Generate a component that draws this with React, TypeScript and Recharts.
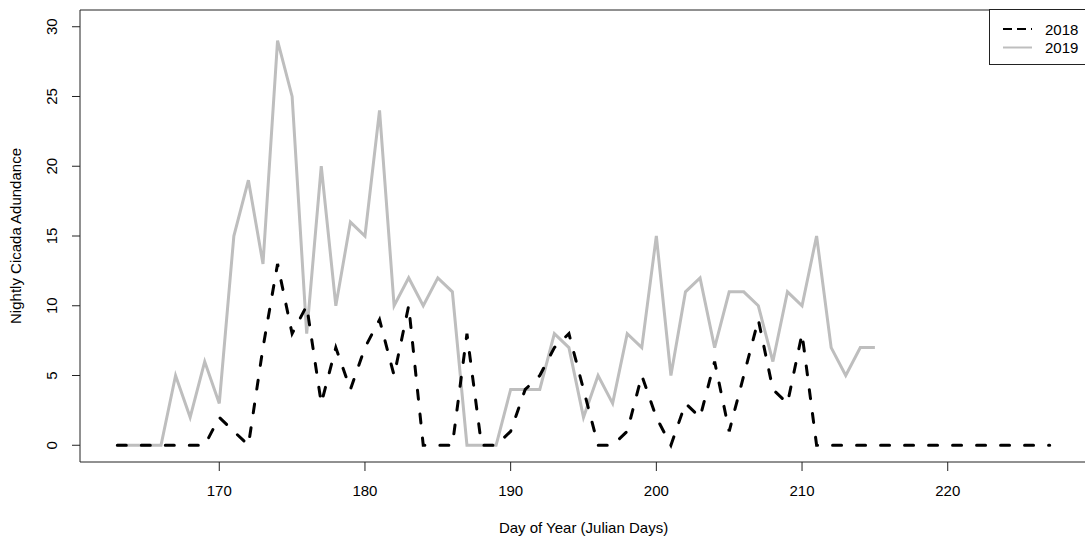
import React from 'react';
import { LineChart, Line, XAxis, YAxis, ReferenceArea, Label } from 'recharts';

const days = [
  163, 164, 165, 166, 167, 168, 169, 170, 171, 172, 173, 174, 175, 176, 177, 178, 179, 180, 181, 182,
  183, 184, 185, 186, 187, 188, 189, 190, 191, 192, 193, 194, 195, 196, 197, 198, 199, 200, 201, 202,
  203, 204, 205, 206, 207, 208, 209, 210, 211, 212, 213, 214, 215, 216, 217, 218, 219, 220, 221, 222,
  223, 224, 225, 226, 227,
];

const abundance2018 = [
  0, 0, 0, 0, 0, 0, 0, 2, 1, 0, 7, 13, 8, 10, 3, 7, 4, 7, 9, 5,
  10, 0, 0, 0, 8, 0, 0, 1, 4, 5, 7, 8, 4, 0, 0, 1, 5, 2, 0, 3,
  2, 6, 1, 5, 9, 4, 3, 8, 0, 0, 0, 0, 0, 0, 0, 0, 0, 0, 0, 0,
  0, 0, 0, 0, 0,
];

const abundance2019 = [
  0, 0, 0, 0, 5, 2, 6, 3, 15, 19, 13, 29, 25, 8, 20, 10, 16, 15, 24, 10,
  12, 10, 12, 11, 0, 0, 0, 4, 4, 4, 8, 7, 2, 5, 3, 8, 7, 15, 5, 11,
  12, 7, 11, 11, 10, 6, 11, 10, 15, 7, 5, 7, 7,
];

const xTicks = [170, 180, 190, 200, 210, 220];
const yTicks = [0, 5, 10, 15, 20, 25, 30];
const seriesNames = ['2018', '2019'];

const xDomain: [number, number] = [160.44, 229.56];
const yDomain: [number, number] = [-1.2, 31.2];

const rows = days.map((d, i) => ({
  day: d,
  y2018: abundance2018[i],
  y2019: i < abundance2019.length ? abundance2019[i] : null,
}));

const FONT = '"Liberation Sans", Arial, sans-serif';
const FS = 15;
const GRAY = '#BEBEBE';

const YTick = (props: any) => {
  const { x, y, payload } = props;
  return (
    <text
      x={x}
      y={y}
      transform={`rotate(-90 ${x} ${y})`}
      textAnchor="middle"
      fontFamily={FONT}
      fontSize={FS}
      fill="#000"
    >
      {payload.value}
    </text>
  );
};

const YTitle = (props: any) => {
  const vb = props.viewBox || {};
  const x = 21;
  const y = vb.y + vb.height / 2;
  return (
    <text
      x={x}
      y={y}
      transform={`rotate(-90 ${x} ${y})`}
      textAnchor="middle"
      fontFamily={FONT}
      fontSize={FS}
      fill="#000"
    >
      Nightly Cicada Adundance
    </text>
  );
};

const XTitle = (props: any) => {
  const vb = props.viewBox || {};
  const x = vb.x + vb.width / 2;
  return (
    <text x={x} y={533} textAnchor="middle" fontFamily={FONT} fontSize={FS} fill="#000">
      Day of Year (Julian Days)
    </text>
  );
};

export default function App() {
  return (
    <div
      style={{
        position: 'absolute',
        left: 0,
        top: 0,
        width: 1085,
        height: 539,
        overflow: 'hidden',
        background: '#fff',
      }}
    >
      <LineChart
        width={1090}
        height={539}
        data={rows}
        margin={{ top: 10, right: 3, bottom: 0, left: 0 }}
      >
        <XAxis
          dataKey="day"
          type="number"
          domain={xDomain}
          ticks={xTicks}
          allowDataOverflow
          axisLine={false}
          tickLine={{ stroke: '#222' }}
          tickSize={9}
          tickMargin={14}
          height={77}
          tick={{ fontFamily: FONT, fontSize: FS, fill: '#000' }}
        >
          <Label content={XTitle} />
        </XAxis>
        <YAxis
          type="number"
          domain={yDomain}
          ticks={yTicks}
          allowDataOverflow
          axisLine={false}
          tickLine={{ stroke: '#222' }}
          tickSize={8}
          tickMargin={15}
          width={80}
          tick={YTick}
        >
          <Label content={YTitle} />
        </YAxis>
        <ReferenceArea
          x1={xDomain[0]}
          x2={xDomain[1]}
          y1={yDomain[0]}
          y2={yDomain[1]}
          fill="none"
          fillOpacity={0}
          stroke="#222"
          strokeWidth={1}
          ifOverflow="visible"
        />
        <Line
          type="linear"
          dataKey="y2019"
          name={seriesNames[1]}
          stroke={GRAY}
          strokeWidth={3}
          dot={false}
          activeDot={false}
          isAnimationActive={false}
        />
        <Line
          type="linear"
          dataKey="y2018"
          name={seriesNames[0]}
          stroke="#000"
          strokeWidth={3}
          strokeDasharray="9 15"
          strokeLinecap="round"
          dot={false}
          activeDot={false}
          isAnimationActive={false}
        />
      </LineChart>
      <div
        style={{
          position: 'absolute',
          left: 989,
          top: 9,
          width: 110,
          height: 56,
          border: '1px solid #222',
          boxSizing: 'border-box',
          background: '#fff',
        }}
      >
        <svg width={110} height={56} style={{ position: 'absolute', left: -1, top: -1 }}>
          <line x1={14} y1={20} x2={43} y2={20} stroke="#000" strokeWidth={2} strokeDasharray="9 5" />
          <line x1={14} y1={38.5} x2={43} y2={38.5} stroke={GRAY} strokeWidth={2} />
          <text x={56} y={25.5} fontFamily={FONT} fontSize={FS} fill="#000">
            {seriesNames[0]}
          </text>
          <text x={56} y={44} fontFamily={FONT} fontSize={FS} fill="#000">
            {seriesNames[1]}
          </text>
        </svg>
      </div>
    </div>
  );
}
